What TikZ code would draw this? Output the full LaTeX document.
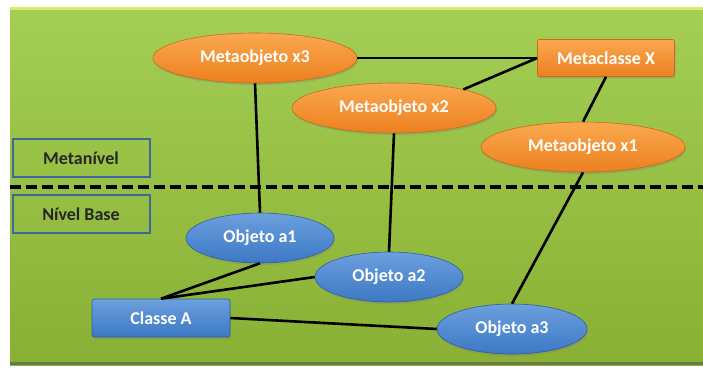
\documentclass[tikz,border=0pt]{standalone}
\usepackage{fontspec}
\setmainfont{Carlito}
\usetikzlibrary{shapes.geometric,shadows}
\definecolor{verdeClaro}{RGB}{164,206,84}
\definecolor{verdeEscuro}{RGB}{136,176,52}
\definecolor{laranja}{RGB}{236,128,30}
\definecolor{laranjaClaro}{RGB}{250,168,80}
\definecolor{azul}{RGB}{60,120,196}
\definecolor{azulClaro}{RGB}{108,160,222}
\definecolor{borda}{RGB}{62,104,152}
\begin{document}
\begin{tikzpicture}[x=1pt,y=-1pt,
    rotulo/.style={font=\fontsize{18}{20}\selectfont\bfseries},
    meta/.style={rotulo, ellipse, draw=laranja!85!black, line width=0.6pt,
        top color=laranjaClaro, bottom color=laranja, text=white,
        minimum width=204pt, minimum height=50pt, inner sep=0pt,
        drop shadow={shadow xshift=1pt, shadow yshift=-2pt, opacity=0.35}},
    obj/.style={meta, draw=azul!80!black, top color=azulClaro, bottom color=azul,
        minimum width=148pt},
    classe/.style={rotulo, rectangle, rounded corners=2pt, draw=laranja!85!black,
        line width=0.6pt, top color=laranjaClaro, bottom color=laranja, text=white,
        minimum width=137pt, minimum height=37pt, inner sep=0pt,
        drop shadow={shadow xshift=1pt, shadow yshift=-2pt, opacity=0.35}},
    nivel/.style={rotulo, rectangle, draw=borda, line width=2pt, text=black!85,
        minimum width=137pt, minimum height=38pt, inner sep=0pt},
    liga/.style={line width=2.6pt, black},
    divisa/.style={line width=4pt, black, dash pattern=on 11pt off 5pt}]
    \useasboundingbox (0,0) rectangle (703,368);
    \shade[top color=verdeClaro, bottom color=verdeEscuro] (10,7) rectangle (703,365);
    \fill[verdeClaro!60!yellow!70!white] (10,7) rectangle (703,10);
    \fill[verdeEscuro!50!black!80] (10,362) rectangle (703,365);
    \node[nivel] (metanivel) at (81,158) {Metanível};
    \node[nivel] (nivelbase) at (81,214) {Nível Base};
    \coordinate (esq) at (10,187);
    \coordinate (dir) at (703,187);
    \draw[divisa] (esq) -- (dir);
    \node[meta] (mx3) at (255,58) {Metaobjeto x3};
    \node[meta] (mx2) at (394,108) {Metaobjeto x2};
    \node[meta] (mx1) at (583,147) {Metaobjeto x1};
    \node[classe] (mcx) at (606,58) {Metaclasse X};
    \node[obj] (oa1) at (260,238) {Objeto a1};
    \node[obj] (oa2) at (389,277) {Objeto a2};
    \node[obj, minimum width=150pt] (oa3) at (512,329) {Objeto a3};
    \node[classe, draw=azul!80!black, top color=azulClaro, bottom color=azul,
        minimum width=138pt, minimum height=38pt] (cla) at (161,318) {Classe A};
    \draw[liga] (mx3.east) -- (mcx.west);
    \draw[liga] (mx2.15) -- (mcx.west);
    \draw[liga] (mcx.south) -- (mx1.north);
    \draw[liga] (mx3.south) -- (oa1.north);
    \draw[liga] (mx2.south) -- (oa2.north);
    \draw[liga] (mx1.south) -- (oa3.north);
    \draw[liga] (cla.north) -- (oa1.south);
    \draw[liga] (cla.north) -- (oa2.west);
    \draw[liga] (cla.east) -- (oa3.west);
\end{tikzpicture}
\end{document}
